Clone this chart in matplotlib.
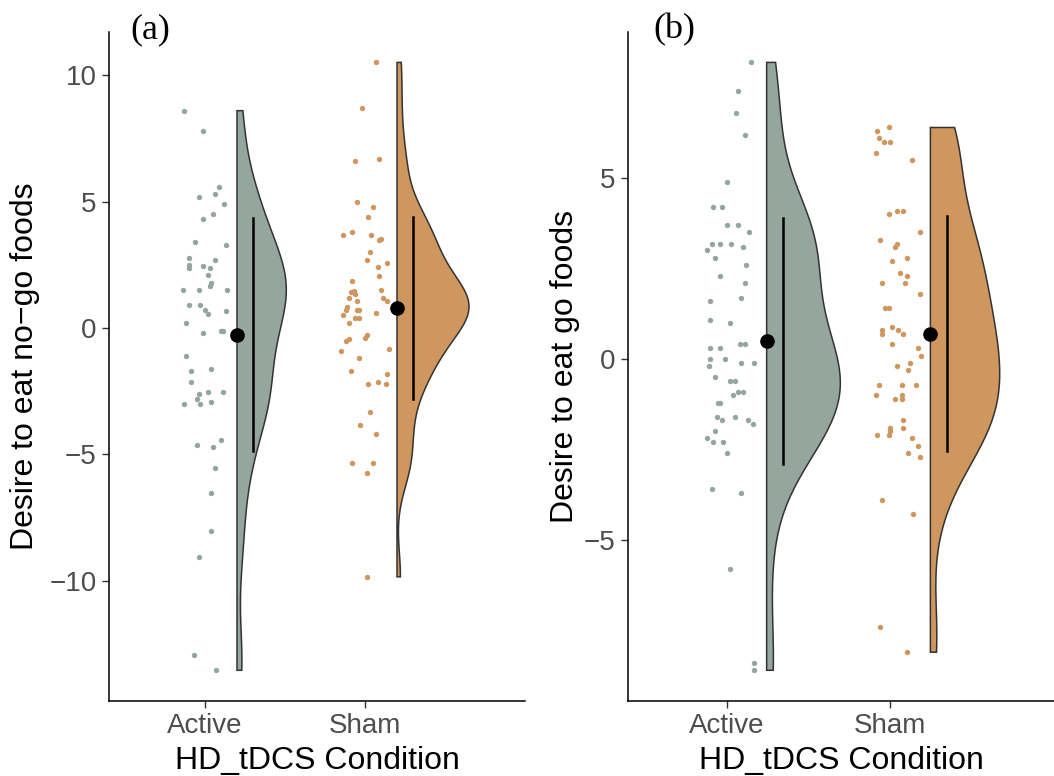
import numpy as np
import matplotlib.pyplot as plt

plt.rcParams['font.family'] = ['Liberation Sans', 'DejaVu Sans']

groups = ['Active', 'Sham']
colors = ['#94a69d', '#cf965e']

# (a) desire to eat no-go foods
nogo_active = [8.60, 7.81, 5.60, 5.20, 5.31, 4.91, 4.51, 4.30, 3.40, 3.29, 2.79, 2.70, 2.48, 2.38,
               2.46, 2.38, 2.08, 1.78, 1.65, 1.49, 1.49, 1.49, 0.91, 0.91, 0.70, 0.57, 0.69, 0.20,
               -0.20, -0.12, -0.12, -1.11, -1.71, -1.62, -2.12, -2.61, -2.52, -2.52, -2.82, -3.02,
               -3.02, -2.92, -4.62, -4.72, -4.43, -5.53, -6.52, -8.04, -9.04, -12.94, -13.54]
nogo_active_jit = [-0.13, -0.01, 0.09, -0.04, 0.06, 0.12, 0.05, -0.01, -0.06, 0.13, -0.10, 0.06, -0.10,
                   -0.10, -0.01, 0.03, 0.02, 0.04, 0.03, -0.14, -0.04, 0.14, -0.10, -0.03, 0.00, 0.02,
                   0.13, -0.12, -0.01, 0.10, 0.11, -0.12, -0.09, 0.04, -0.09, -0.04, 0.02, 0.11, -0.05,
                   -0.13, -0.03, 0.04, -0.05, 0.05, 0.10, 0.06, 0.04, 0.04, -0.04, -0.07, 0.07]
nogo_sham = [10.51, 8.71, 6.60, 6.69, 4.99, 4.78, 4.39, 3.69, 3.79, 3.69, 3.53, 3.47, 3.00, 2.70,
             2.41, 2.58, 2.07, 1.88, 1.49, 1.41, 1.46, 1.36, 1.20, 1.09, 1.19, 1.09, 0.83, 0.70,
             0.70, 0.70, 0.59, 0.50, 0.41, 0.41, 0.20, -0.29, -0.40, -0.42, -0.51, -0.91, -0.82,
             -1.17, -1.71, -1.82, -2.21, -2.12, -2.21, -3.32, -3.82, -4.21, -5.32, -5.32, -5.72, -9.84]
nogo_sham_jit = [0.07, -0.02, -0.06, 0.09, -0.05, 0.05, 0.02, -0.14, -0.08, 0.04, 0.10, 0.09, 0.03,
                 0.01, 0.08, 0.14, 0.09, -0.08, 0.10, -0.09, -0.07, -0.06, -0.10, -0.05, 0.11, 0.14,
                 -0.11, -0.12, -0.05, -0.04, 0.07, -0.14, -0.06, -0.04, -0.10, 0.01, 0.00, -0.10,
                 -0.12, -0.15, 0.15, -0.04, -0.09, 0.14, 0.02, 0.08, 0.13, 0.03, -0.03, 0.07, -0.08,
                 0.05, 0.01, 0.01]

# (b) desire to eat go foods
go_active = [8.21, 7.41, 6.80, 6.21, 4.90, 4.21, 4.21, 3.70, 3.70, 3.51, 3.20, 3.20, 3.20, 3.10,
             3.01, 2.81, 2.61, 2.30, 2.10, 1.60, 1.70, 1.10, 1.00, 0.41, 0.41, 0.31, 0.31, 0.02,
             0.02, -0.10, -0.10, -0.19, -0.50, -0.60, -0.60, -0.99, -0.90, -0.90, -1.20, -1.20,
             -1.59, -1.69, -1.59, -1.69, -1.80, -1.99, -2.19, -2.29, -2.29, -2.60, -3.59, -3.69,
             -5.79, -8.40, -8.60]
go_active_jit = [0.15, 0.07, 0.06, 0.11, 0.00, -0.08, -0.03, 0.00, 0.07, 0.14, -0.09, -0.04, 0.03,
                 0.10, -0.12, -0.07, 0.12, -0.04, 0.11, -0.10, 0.09, -0.10, 0.02, 0.08, 0.11, -0.10,
                 -0.04, -0.10, -0.01, 0.09, 0.17, -0.11, -0.07, 0.02, 0.05, 0.04, 0.07, 0.10, -0.05,
                 -0.04, -0.06, -0.03, 0.05, 0.13, 0.16, -0.07, -0.12, -0.08, -0.02, 0.00, -0.09,
                 0.09, 0.02, 0.17, 0.17]
go_sham = [6.31, 6.41, 6.11, 6.00, 6.00, 5.70, 5.51, 4.01, 4.11, 4.11, 3.51, 3.31, 3.20, 3.10,
           2.71, 2.81, 2.40, 2.30, 2.10, 2.10, 1.80, 1.41, 1.41, 0.80, 0.71, 0.90, 0.80, 0.71,
           0.41, 0.31, 0.09, -0.19, -0.10, -0.29, -0.70, -0.70, -0.70, -0.99, -1.10, -1.00,
           -1.10, -1.69, -1.90, -1.99, -2.09, -2.09, -1.90, -2.19, -2.39, -2.60, -2.70, -3.90,
           -4.29, -7.39, -8.10]
go_sham_jit = [-0.08, -0.01, -0.07, -0.04, 0.00, -0.09, 0.13, -0.01, 0.04, 0.08, 0.18, -0.06, 0.04,
               0.03, 0.01, 0.10, 0.06, 0.10, -0.05, 0.09, 0.18, -0.03, -0.01, -0.05, -0.05, 0.01,
               0.05, 0.08, 0.01, 0.17, 0.19, 0.04, 0.12, 0.11, -0.07, 0.07, 0.16, -0.09, 0.03,
               0.07, 0.07, 0.08, 0.00, 0.00, -0.01, -0.08, 0.08, 0.13, 0.17, 0.11, 0.18, -0.05,
               0.14, -0.06, 0.10]


def nrd0(y):
    sd = np.std(y, ddof=1)
    iqr = np.subtract(*np.percentile(y, [75, 25]))
    return 0.9 * min(sd, iqr / 1.34) * len(y) ** -0.2


def density(y):
    grid = np.linspace(y.min(), y.max(), 512)
    bw = nrd0(y)
    k = np.exp(-0.5 * ((grid[:, None] - y[None, :]) / bw) ** 2)
    return grid, k.sum(axis=1) / (len(y) * bw * np.sqrt(2 * np.pi))


def raincloud(ax, values, jitters, nudge, line_nudge):
    values = [np.array(v) for v in values]
    dens = [density(v) for v in values]
    dmax = max(d.max() for _, d in dens)
    for i, (v, jit, (grid, d)) in enumerate(zip(values, jitters, dens)):
        pos = i + 1
        ax.scatter(pos + np.array(jit), v, s=15, color=colors[i], linewidths=0, zorder=2)
        x0 = pos + nudge
        ax.fill(np.r_[x0 + 0.45 * d / dmax, x0, x0], np.r_[grid, grid[-1], grid[0]],
                facecolor=colors[i], edgecolor='#333333', linewidth=1.1, zorder=3)
        m, sd = v.mean(), v.std(ddof=1)
        ax.plot([x0], [m], 'o', color='black', markersize=9.5, zorder=5)
        ax.plot([pos + line_nudge] * 2, [m - sd, m + sd], color='black', linewidth=1.8, zorder=4)
    lo = min(v.min() for v in values)
    hi = max(v.max() for v in values)
    pad = 0.05 * (hi - lo)
    ax.set_ylim(lo - pad, hi + pad)
    ax.set_xlim(0.4, 3.0)
    ax.set_xticks([1, 2])
    ax.set_xticklabels(groups)
    for s in ['top', 'right']:
        ax.spines[s].set_visible(False)
    for s in ['left', 'bottom']:
        ax.spines[s].set_linewidth(1.1)
        ax.spines[s].set_color('black')
    ax.tick_params(length=5, width=1.0, color='#333333', labelcolor='#4d4d4d',
                   labelsize=20, pad=4)


fig = plt.figure(figsize=(10.54, 7.76), dpi=100)
ax1 = fig.add_axes([109 / 1054, 75.3 / 776, 416 / 1054, 668.7 / 776])
ax2 = fig.add_axes([628.3 / 1054, 75.3 / 776, 425.7 / 1054, 668.7 / 776])

raincloud(ax1, [nogo_active, nogo_sham], [nogo_active_jit, nogo_sham_jit], 0.2, 0.3)
ax1.set_yticks([-10, -5, 0, 5, 10])
raincloud(ax2, [go_active, go_sham], [go_active_jit, go_sham_jit], 0.245, 0.345)
ax2.set_yticks([-5, 0, 5])

ax1.set_ylabel('Desire to eat no\u2212go foods', fontsize=23, color='black')
ax1.yaxis.set_label_coords(-0.166, 0.5)
ax2.set_ylabel('Desire to eat go foods', fontsize=23, color='black')
ax2.yaxis.set_label_coords(-0.113, 0.5)

fig.text(317 / 1054, 1 - 769 / 776, 'HD_tDCS Condition', fontsize=23, ha='center', va='baseline')
fig.text(841 / 1054, 1 - 769 / 776, 'HD_tDCS Condition', fontsize=23, ha='center', va='baseline')

fig.text(130 / 1054, 1 - 38 / 776, '(a)', fontsize=26, family='Liberation Serif', va='baseline')
fig.text(653 / 1054, 1 - 38 / 776, '(b)', fontsize=26, family='Liberation Serif', va='baseline')

fig.savefig('out.png', dpi=100)
